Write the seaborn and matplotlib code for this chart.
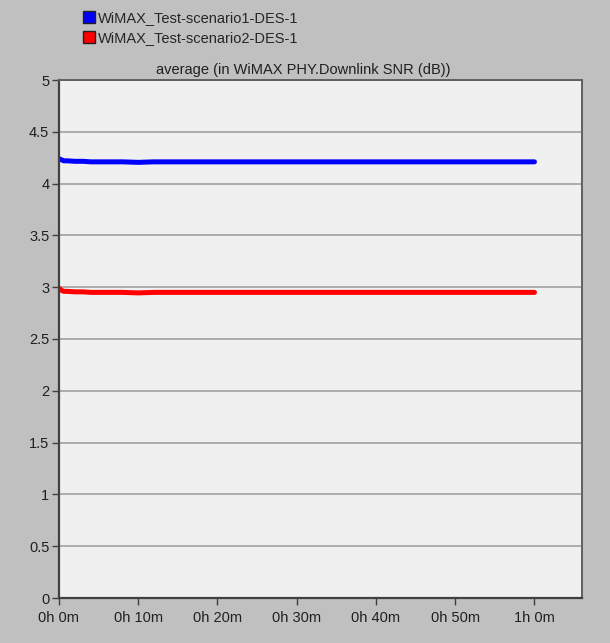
import numpy as np
import pandas as pd
import matplotlib
matplotlib.use("Agg")
import matplotlib.pyplot as plt
from matplotlib.lines import Line2D
import seaborn as sns

# sim time in minutes, and averaged downlink SNR (dB) per scenario
minutes = [0, 0.3, 0.6, 1, 2, 3, 4, 6, 8, 10, 12, 15, 18, 20, 24, 28, 30, 34, 38,
           40, 44, 48, 50, 54, 58, 60]
snr_s1 = [4.24, 4.23, 4.22, 4.22, 4.215, 4.215, 4.21, 4.21, 4.21, 4.205, 4.21, 4.21,
          4.21, 4.21, 4.21, 4.21, 4.21, 4.21, 4.21, 4.21, 4.21, 4.21, 4.21, 4.21,
          4.21, 4.21]
snr_s2 = [2.99, 2.97, 2.96, 2.96, 2.955, 2.955, 2.95, 2.95, 2.95, 2.945, 2.95, 2.95,
          2.95, 2.95, 2.95, 2.95, 2.95, 2.95, 2.95, 2.95, 2.95, 2.95, 2.95, 2.95,
          2.95, 2.95]
series_names = ["WiMAX_Test-scenario1-DES-1", "WiMAX_Test-scenario2-DES-1"]
series_colors = ["#0000ff", "#ff0000"]
x_ticks = [0, 10, 20, 30, 40, 50, 60]
x_labels = ["0h 0m", "0h 10m", "0h 20m", "0h 30m", "0h 40m", "0h 50m", "1h 0m"]
y_ticks = [0, 0.5, 1, 1.5, 2, 2.5, 3, 3.5, 4, 4.5, 5]

df = pd.concat([
    pd.DataFrame({"t": minutes, "snr": snr_s1, "run": series_names[0]}),
    pd.DataFrame({"t": minutes, "snr": snr_s2, "run": series_names[1]}),
])

sns.set_style("white")
plt.rcParams["font.family"] = ["Liberation Sans", "DejaVu Sans"]

fig = plt.figure(figsize=(6.1, 6.43), dpi=100, facecolor="#c0c0c0")
ax = fig.add_axes([59 / 610, 45 / 643, 523 / 610, 518 / 643])
ax.set_facecolor("#f0f0f0")

sns.lineplot(data=df, x="t", y="snr", hue="run", palette=series_colors,
             linewidth=3.6, legend=False, ax=ax)

ax.set_xlim(0, 66)
ax.set_ylim(0, 5)
ax.set_xticks(x_ticks)
ax.set_xticklabels(x_labels)
ax.set_yticks(y_ticks)
ax.set_yticklabels(["0", "0.5", "1", "1.5", "2", "2.5", "3", "3.5", "4", "4.5", "5"])
ax.yaxis.grid(True, color="#a0a0a0", linewidth=1.2)
ax.set_axisbelow(True)
ax.set_xlabel("")
ax.set_ylabel("")
ax.tick_params(axis="both", direction="out", length=5, width=1, color="#404040",
               labelsize=10.5, labelcolor="#202020", pad=2)
ax.tick_params(axis="x", bottom=True, pad=4)
ax.tick_params(axis="y", left=True)
for side in ["left", "bottom"]:
    ax.spines[side].set_color("#404040")
    ax.spines[side].set_linewidth(1.6)
for side in ["right", "top"]:
    ax.spines[side].set_color("#606060")
    ax.spines[side].set_linewidth(1.4)

ax.set_title("average (in WiMAX PHY.Downlink SNR (dB))", fontsize=10.5,
             color="#202020", pad=4, x=0.467)

handles = [Line2D([], [], linestyle="none", marker="s", markersize=9,
                  markerfacecolor=c, markeredgecolor="#202020")
           for c in series_colors]
fig.legend(handles, series_names, loc="upper left", bbox_to_anchor=(74 / 610, 1 - 5 / 643),
           frameon=False, fontsize=10.5, handletextpad=0.05, labelspacing=0.45,
           borderaxespad=0, handlelength=1.2)

fig.savefig("out.png", dpi=100, facecolor=fig.get_facecolor())
